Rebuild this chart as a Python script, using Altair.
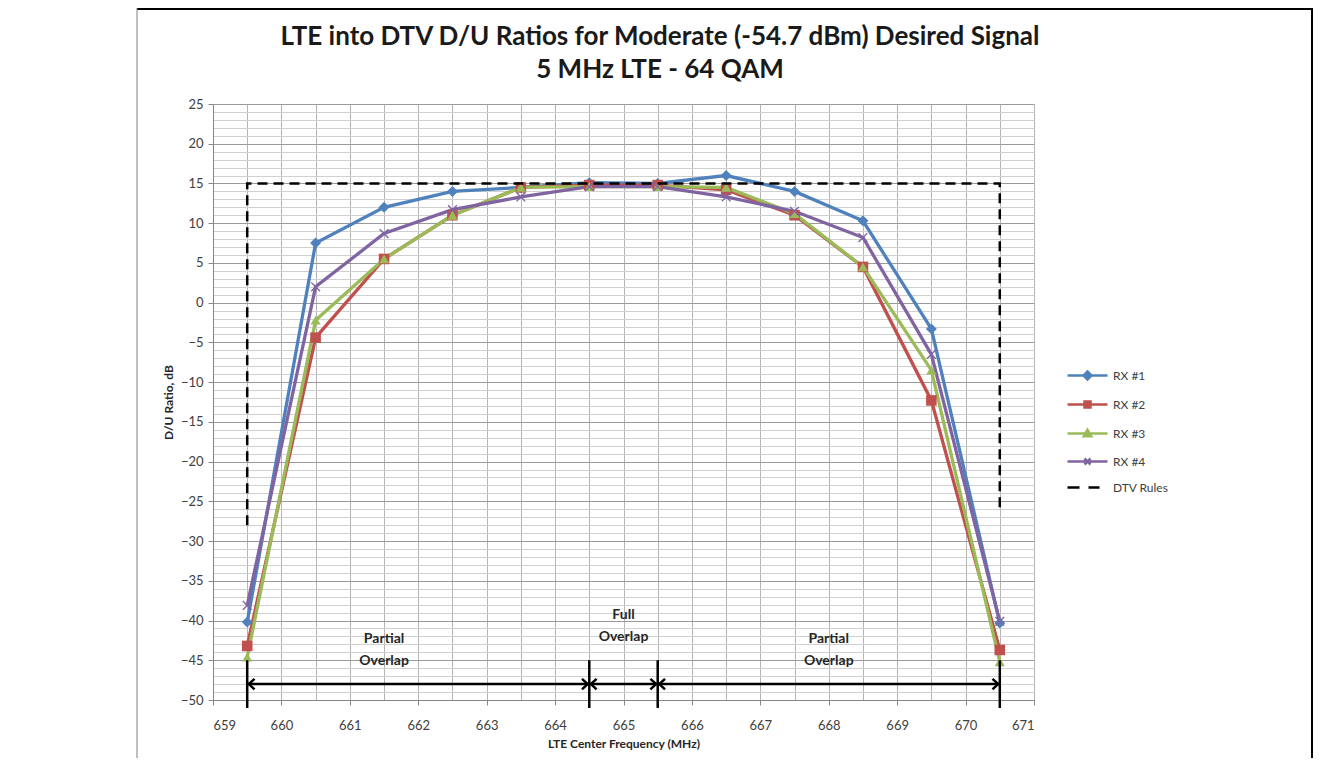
import altair as alt
import pandas as pd

# ---------------- data ----------------
freq = [659.5, 660.5, 661.5, 662.5, 663.5, 664.5, 665.5, 666.5, 667.5, 668.5, 669.5, 670.5]
rx1 = [-40.2, 7.5, 12.0, 14.0, 14.5, 15.1, 15.0, 16.0, 14.0, 10.3, -3.3, -40.3]
rx2 = [-43.2, -4.4, 5.5, 11.0, 14.5, 14.8, 14.8, 14.2, 11.0, 4.5, -12.3, -43.7]
rx3 = [-44.6, -2.2, 5.5, 11.0, 14.5, 14.6, 14.6, 14.5, 11.2, 4.5, -8.5, -45.2]
rx4 = [-38.1, 2.0, 8.7, 11.7, 13.3, 14.6, 14.6, 13.3, 11.5, 8.2, -6.5, -40.1]

series_names = ["RX #1", "RX #2", "RX #3", "RX #4"]
series_colors = ["#4F81BD", "#C0504D", "#9BBB59", "#8064A2"]
legend_names = series_names + ["DTV Rules"]
legend_colors = series_colors + ["#000000"]

dtv_freq = [659.5, 659.5, 670.5, 670.5]
dtv_du = [-28, 15, 15, -26]

bound_freq = [659.5, 664.5, 665.5, 670.5]
bound_top = -45
bound_bottom = -51
arrow_level = -48
arrow_tips = [659.5, 664.5, 664.5, 665.5, 665.5, 670.5]
arrow_dirs = ["left", "right", "left", "right", "left", "right"]

region_text = ["Partial\nOverlap", "Full\nOverlap", "Partial\nOverlap"]
region_freq = [661.5, 665.0, 668.0]
region_du = [-42.3, -39.3, -42.3]

title_lines = ["LTE into DTV D/U Ratios for Moderate (-54.7 dBm) Desired Signal",
               "5 MHz LTE - 64 QAM"]

x_ticks = list(range(659, 672))
x_minor = [659 + 0.5 * i for i in range(25)]
y_ticks = list(range(-50, 26, 5))
y_minor = list(range(-50, 26, 1))

FONT = "Lato"

# ---------------- tables ----------------
rows = []
for name, vals in zip(series_names, [rx1, rx2, rx3, rx4]):
    for f, v in zip(freq, vals):
        rows.append({"series": name, "freq": f, "du": v})
df = pd.DataFrame(rows)
dtv_df = pd.DataFrame({"freq": dtv_freq, "du": dtv_du, "idx": list(range(len(dtv_freq)))})
bound_df = pd.DataFrame({"freq": bound_freq, "top": [bound_top] * 4, "bottom": [bound_bottom] * 4})
span_df = pd.DataFrame({"f1": [bound_freq[0]], "f2": [bound_freq[-1]], "y": [arrow_level]})
arrow_df = pd.DataFrame({"freq": arrow_tips, "dir": arrow_dirs, "y": [arrow_level] * len(arrow_tips)})
text_df = pd.DataFrame({"freq": region_freq, "du": region_du, "txt": region_text})

xs = alt.Scale(domain=[659, 671], nice=False, zero=False)
ys = alt.Scale(domain=[-50, 25], nice=False, zero=False)
color_scale = alt.Scale(domain=series_names, range=series_colors)

X_PATH = ("M-1,-0.8L-0.8,-1L0,-0.2L0.8,-1L1,-0.8L0.2,0L1,0.8L0.8,1L0,0.2"
          "L-0.8,1L-1,0.8L-0.2,0Z")

minor_x_axis = alt.Axis(orient="bottom", values=x_minor, grid=True, gridColor="#b5b5b5",
                        labels=False, ticks=False, domain=False, title=None)
minor_y_axis = alt.Axis(orient="left", values=y_minor, grid=True, gridColor="#d0d0d0",
                        labels=False, ticks=False, domain=False, title=None)
main_x_axis = alt.Axis(orient="bottom", values=x_ticks, grid=False, ticks=True, tickSize=5,
                       tickColor="#868686", domainColor="#868686", labelPadding=14,
                       labelFont=FONT, labelFontSize=13, labelColor="#404040",
                       title="LTE Center Frequency (MHz)", titlePadding=6,
                       titleFont=FONT, titleFontSize=12, titleFontWeight="bold",
                       titleColor="#262626")
main_y_axis = alt.Axis(orient="left", values=y_ticks, grid=True, gridColor="#9a9a9a",
                       ticks=True, tickSize=5, tickColor="#868686", domainColor="#868686",
                       labelPadding=5, labelFont=FONT, labelFontSize=13, labelColor="#404040",
                       title="D/U Ratio, dB", titlePadding=5,
                       titleFont=FONT, titleFontSize=12, titleFontWeight="bold",
                       titleColor="#262626")

lines = alt.Chart(df).mark_line(strokeWidth=3.3).encode(
    x=alt.X("freq:Q", scale=xs, axis=minor_x_axis),
    y=alt.Y("du:Q", scale=ys, axis=minor_y_axis),
    color=alt.Color("series:N", scale=color_scale, legend=None),
)

points = alt.Chart(df).mark_point(filled=True, opacity=1).encode(
    x=alt.X("freq:Q", scale=xs, axis=main_x_axis),
    y=alt.Y("du:Q", scale=ys, axis=main_y_axis),
    color=alt.Color("series:N", scale=color_scale, legend=None),
    shape=alt.Shape("series:N", scale=alt.Scale(domain=series_names,
                    range=["diamond", "square", "triangle-up", X_PATH]), legend=None),
    size=alt.Size("series:N", scale=alt.Scale(domain=series_names, range=[120, 95, 120, 130]),
                  legend=None),
)

dtv = alt.Chart(dtv_df).mark_line(color="black", strokeWidth=2.5, strokeDash=[10, 6]).encode(
    x=alt.X("freq:Q", scale=xs, axis=None),
    y=alt.Y("du:Q", scale=ys, axis=None),
    order=alt.Order("idx:Q"),
)

bounds = alt.Chart(bound_df).mark_rule(color="black", strokeWidth=2.5).encode(
    x=alt.X("freq:Q", scale=xs, axis=None),
    y=alt.Y("top:Q", scale=ys, axis=None),
    y2="bottom:Q",
)

span = alt.Chart(span_df).mark_rule(color="black", strokeWidth=2.5).encode(
    x=alt.X("f1:Q", scale=xs, axis=None),
    x2="f2:Q",
    y=alt.Y("y:Q", scale=ys, axis=None),
)

arrows = alt.Chart(arrow_df).mark_point(filled=False, color="black", strokeWidth=2.5,
                                       size=110, opacity=1).encode(
    x=alt.X("freq:Q", scale=xs, axis=None),
    y=alt.Y("y:Q", scale=ys, axis=None),
    shape=alt.Shape("dir:N", scale=alt.Scale(domain=["left", "right"],
                    range=["M1.4,-1L0.3,0L1.4,1", "M-1.4,-1L-0.3,0L-1.4,1"]), legend=None),
)

texts = alt.Chart(text_df).mark_text(font=FONT, fontSize=14, fontWeight="bold",
                                     color="#262626", lineBreak="\n", lineHeight=22,
                                     baseline="middle").encode(
    x=alt.X("freq:Q", scale=xs, axis=None),
    y=alt.Y("du:Q", scale=ys, axis=None),
    text="txt:N",
)

legend_paths = [
    "M-4,0L4,0M0,-0.8L0.8,0L0,0.8L-0.8,0Z",
    "M-4,0L4,0M-0.6,-0.6L0.6,-0.6L0.6,0.6L-0.6,0.6Z",
    "M-4,0L4,0M0,-0.75L0.75,0.55L-0.75,0.55Z",
    "M-4,0L4,0M-0.6,-0.6L0.6,0.6M-0.6,0.6L0.6,-0.6",
    "M-4,0L-1.6,0M0.2,0L2.4,0",
]
leg = alt.Legend(orient="none", legendX=868, legendY=265, title=None, labelFont=FONT,
                 labelFontSize=12, labelColor="#404040", symbolSize=100,
                 symbolStrokeWidth=2.5, labelOffset=19, rowPadding=11, padding=0)
legend_layer = alt.Chart(alt.Data(values=[])).mark_point(filled=True, strokeWidth=2.5,
                                                        opacity=1).encode(
    x=alt.X("freq:Q", scale=xs, axis=None),
    y=alt.Y("du:Q", scale=ys, axis=None),
    fill=alt.Fill("series:N", scale=alt.Scale(domain=legend_names, range=legend_colors), legend=leg),
    stroke=alt.Stroke("series:N", scale=alt.Scale(domain=legend_names, range=legend_colors), legend=leg),
    shape=alt.Shape("series:N", scale=alt.Scale(domain=legend_names, range=legend_paths), legend=leg),
)

dummy = alt.Data(values=[{}])
title1 = alt.Chart(dummy).mark_text(font=FONT, fontSize=26, fontWeight="bold", color="#1a1a1a",
                                    baseline="middle", align="center").encode(
    x=alt.value(447), y=alt.value(-67), text=alt.value(title_lines[0]))
title2 = alt.Chart(dummy).mark_text(font=FONT, fontSize=26, fontWeight="bold", color="#1a1a1a",
                                    baseline="middle", align="center").encode(
    x=alt.value(447), y=alt.value(-34), text=alt.value(title_lines[1]))

frame_top = alt.Chart(dummy).mark_rule(color="black", strokeWidth=2).encode(
    x=alt.value(-76), x2=alt.value(1099), y=alt.value(-95))
frame_left = alt.Chart(dummy).mark_rule(color="#808080", strokeWidth=1).encode(
    x=alt.value(-76), y=alt.value(-96), y2=alt.value(656))
frame_right = alt.Chart(dummy).mark_rule(color="black", strokeWidth=2).encode(
    x=alt.value(1099), y=alt.value(-96), y2=alt.value(656))

chart = alt.layer(
    lines, points, dtv, bounds, span, arrows, texts, legend_layer,
    title1, title2, frame_top, frame_left, frame_right,
).resolve_axis(x="independent", y="independent").resolve_scale(
    shape="independent", fill="independent", stroke="independent"
).properties(
    width=821, height=596,
    padding={"left": 205, "top": 96, "right": 280, "bottom": 58},
    autosize=alt.AutoSizeParams(type="none"),
).configure_view(fill="#e9e9e9", stroke=None).configure(background="white")

chart.save("out.html", embed_options={"renderer": "svg", "actions": False})
